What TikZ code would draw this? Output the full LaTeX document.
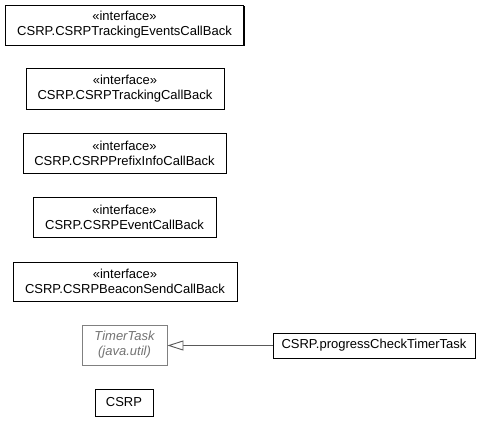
\documentclass[tikz,border=0pt]{standalone}
\usepackage{fontspec}
\setmainfont{Liberation Sans}
\usetikzlibrary{arrows.meta,shadows}
\begin{document}
\begin{tikzpicture}[x=1pt,y=-1pt,
  cls/.style={draw=black, line width=0.9pt, fill=white, inner sep=0pt, align=center,
    font=\fontsize{13}{15}\selectfont,
    drop shadow={shadow xshift=1pt, shadow yshift=-1pt, fill=black, opacity=1}},
  ext/.style={draw=gray, line width=0.9pt, fill=white, inner sep=0pt, align=center,
    text=gray!90!black, font=\fontsize{13}{15}\selectfont\itshape},
  gen/.style={draw=black!65, line width=0.9pt, -{Triangle[open, length=16pt, width=10pt, fill=white]}}
]
\useasboundingbox (0,0) rectangle (488,421);
\node[cls, minimum width=238pt, minimum height=40pt] (a) at (124.5,25) {«interface»\\CSRP.CSRPTrackingEventsCallBack};
\node[cls, minimum width=198pt, minimum height=41pt] (b) at (125,88.5) {«interface»\\CSRP.CSRPTrackingCallBack};
\node[cls, minimum width=203pt, minimum height=40pt] (c) at (124.5,153) {«interface»\\CSRP.CSRPPrefixInfoCallBack};
\node[cls, minimum width=183pt, minimum height=40pt] (d) at (124.5,217) {«interface»\\CSRP.CSRPEventCallBack};
\node[cls, minimum width=224pt, minimum height=39pt] (e) at (125,281.5) {«interface»\\CSRP.CSRPBeaconSendCallBack};
\node[ext, minimum width=85pt, minimum height=40pt] (t) at (124.5,345) {TimerTask\\(java.util)};
\node[cls, minimum width=202pt, minimum height=25pt] (p) at (374,345.5) {CSRP.progressCheckTimerTask};
\node[cls, minimum width=58pt, minimum height=27pt] (s) at (124,402.5) {CSRP};
\draw[gen] (p.west) -- (t.east |- p.west);
\end{tikzpicture}
\end{document}
